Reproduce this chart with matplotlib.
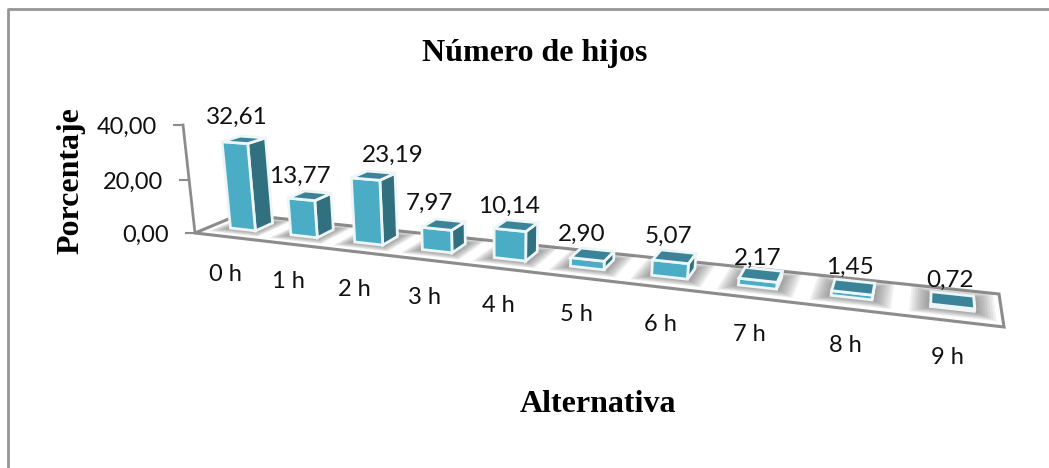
import matplotlib
matplotlib.use("Agg")
import matplotlib.pyplot as plt
import numpy as np
from matplotlib.patches import Polygon

categorias = ["0 h", "1 h", "2 h", "3 h", "4 h", "5 h", "6 h", "7 h", "8 h", "9 h"]
porcentajes = [32.61, 13.77, 23.19, 7.97, 10.14, 2.90, 5.07, 2.17, 1.45, 0.72]
etiquetas = ["32,61", "13,77", "23,19", "7,97", "10,14", "2,90", "5,07", "2,17", "1,45", "0,72"]
ticks_y = [0, 20, 40]
ticks_y_txt = ["0,00", "20,00", "40,00"]

# ajuste a mano de cada etiqueta de dato, en pixeles
ajuste_dx = [-16, -18, 12, -21, -13, -16, -10, -6, -5, -2]
ajuste_dy = [-3, 1, -1, -1, 0, 0, -1, 3, 0, 0]

GRIS = "#8c8c8c"
FRENTE = "#4bacc6"
LADO = "#31707f"
TECHO = "#3a8398"

plt.rcParams["font.family"] = ["Lato", "DejaVu Sans"]

# esquinas del suelo en pixeles: frente-izq, frente-der, fondo-der, fondo-izq
esquinas = np.array([[195, 233], [1004, 327], [999, 294], [240, 214.2]], float)
n = len(categorias)


def homografia(pts):
    src = [(0, 0), (n, 0), (n, 1), (0, 1)]
    A, b = [], []
    for (x, y), (u, v) in zip(src, pts):
        A.append([x, y, 1, 0, 0, 0, -u * x, -u * y])
        A.append([0, 0, 0, x, y, 1, -v * x, -v * y])
        b += [u, v]
    h = np.linalg.solve(np.array(A), np.array(b))
    return np.append(h, 1).reshape(3, 3)


H = homografia(esquinas)
# punto de fuga de las verticales, abajo de la figura
fuga = np.array([502.0, 3000.0, 1.0])
base0 = H @ np.array([0, 0, 1.0])
base0 = base0 / base0[2]
k = (base0[1] - 125) / (40 * (125 - fuga[1]))


def proy(x, y, z):
    p = H @ np.array([x, y, 1.0]) + z * k * fuga
    return p[:2] / p[2]


fig = plt.figure(figsize=(10.49, 4.68), dpi=100)
ax = fig.add_axes([0, 0, 1, 1])
ax.set_xlim(0, 1049)
ax.set_ylim(468, 0)
ax.axis("off")

# marco: solo arriba e izquierda quedan dentro de la imagen
ax.plot([1049, 7.5, 7.5], [9, 9, 468], color="#969696", lw=2)

# suelo
ax.add_patch(Polygon([proy(0, 0, 0), proy(n, 0, 0), proy(n, 1, 0), proy(0, 1, 0)],
                     closed=True, fc="white", ec=GRIS, lw=2.2, zorder=2))

# eje vertical
ax.plot(*zip(proy(0, 0, 0), proy(0, 0, 40)), color=GRIS, lw=2, zorder=2)
for t, txt in zip(ticks_y, ticks_y_txt):
    px, py = proy(0, 0, t)
    ax.plot([px - 9, px], [py, py], color=GRIS, lw=1.5, zorder=2)
    ax.text(px - 26, py + 2, txt, ha="right", va="center", fontsize=17, color="#111111")

ancho = 0.42
y0, y1 = 0.36, 0.76
for i, v in enumerate(porcentajes):
    c = i + 0.53
    x0, x1 = c - ancho / 2, c + ancho / 2
    # sombra difusa sobre el suelo
    for e in np.linspace(0.2, 0.01, 9):
        ey = e * 1.1
        ax.add_patch(Polygon([proy(x0 - e, y0 - ey, 0), proy(x1 + e, y0 - ey, 0),
                              proy(x1 + e, y1 + ey, 0), proy(x0 - e, y1 + ey, 0)],
                             closed=True, fc="#555555", ec="none", alpha=0.09, zorder=3))
    frente = [proy(x0, y0, 0), proy(x1, y0, 0), proy(x1, y0, v), proy(x0, y0, v)]
    lado = [proy(x1, y0, 0), proy(x1, y1, 0), proy(x1, y1, v), proy(x1, y0, v)]
    techo = [proy(x0, y0, v), proy(x1, y0, v), proy(x1, y1, v), proy(x0, y1, v)]
    ax.add_patch(Polygon(lado, closed=True, fc=LADO, ec="#eef5f7", lw=2, zorder=4))
    ax.add_patch(Polygon(frente, closed=True, fc=FRENTE, ec="#eef5f7", lw=2, zorder=4))
    ax.add_patch(Polygon(techo, closed=True, fc=TECHO, ec="#eef5f7", lw=2, zorder=4))

    tx, ty = proy(c, y1, v)
    ax.text(tx + ajuste_dx[i], ty - 17 + 0.4 * i + ajuste_dy[i], etiquetas[i], ha="center",
            va="center", fontsize=17.5, color="#111111", zorder=5)

    cx, cy = proy(c, y0, 0)
    ax.text(cx - 5 - 12 * (1 - i / 9), cy + 45 + 0.4 * i, categorias[i], ha="center", va="center",
            fontsize=17, color="#111111")

ax.text(535, 54, "Número de hijos", ha="center", va="center", fontsize=23,
        family="Liberation Serif", weight="bold")
ax.text(598, 405, "Alternativa", ha="center", va="center", fontsize=23,
        family="Liberation Serif", weight="bold")
ax.text(71, 181, "Porcentaje", ha="center", va="center", rotation=90, fontsize=23,
        family="Liberation Serif", weight="bold")

fig.savefig("out.png", dpi=100)
